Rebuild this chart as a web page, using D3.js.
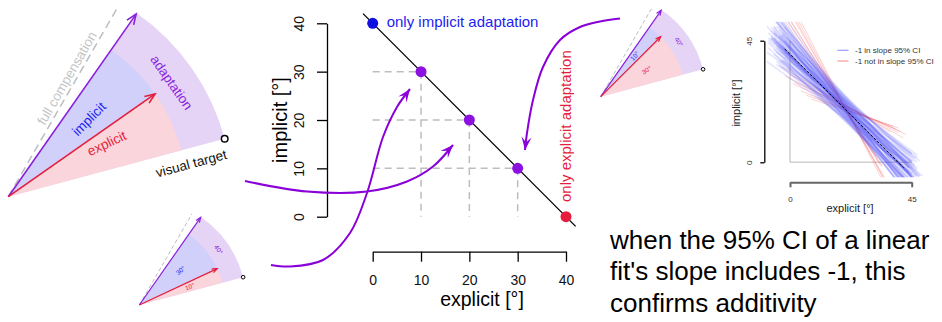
<!DOCTYPE html>
<html>
<head>
<meta charset="utf-8">
<script src="https://cdn.jsdelivr.net/npm/d3@7"></script>
<style>
  body { margin: 0; background: #fff; }
  svg { display: block; font-family: "Liberation Sans", Arial, sans-serif; }
</style>
</head>
<body>
<svg id="fig" width="942" height="322"></svg>
<script>
// ---- data
const wedgeExplicit = [20, 10, 30];   // big, bottom, top-right
const wedgeImplicit = [20, 30, 10];
const targetDeg = 15;

const mainExplicit = [0, 10, 20, 30, 40];
const mainImplicit = [40, 30, 20, 10, 0];
const mainKind     = ['implicit', 'both', 'both', 'both', 'explicit'];
const mainTicks    = [0, 10, 20, 30, 40];
const fitTicks     = [0, 45];

// fitted lines: [x start, x end, intercept, slope]
const blueFits = [
  [-6, 45, 40.0, -1.00], [-4, 46, 41.3, -0.92], [-7, 44, 39.1, -1.10], [-9, 47, 47.3, -1.30],
  [-5, 43, 33.4, -0.78], [-8, 45, 39.1, -0.86], [-2, 46, 47.8, -1.18], [-6, 48, 38.6, -0.98],
  [-4, 44, 32.7, -0.82], [-5, 45, 46.1, -1.22], [-3, 42, 47.5, -1.38], [-7, 47, 42.4, -0.90],
  [-6, 46, 39.5, -1.07], [-1, 45, 45.0, -1.12], [-5, 49, 38.0, -0.88], [-10, 45, 34.7, -0.70],
  [-8, 43, 36.2, -1.01], [-2, 47, 39.3, -0.80], [-6, 44, 42.2, -1.15], [-3, 46, 44.2, -0.96],
  [-5, 45, 45.2, -1.32], [-7, 46, 39.5, -0.93], [-4, 48, 43.0, -1.00], [-6, 43, 42.8, -1.25],
  [-2, 45, 35.9, -0.85], [-9, 47, 31.1, -0.72], [-3, 44, 43.9, -1.09], [-8, 46, 37.5, -0.95],
  [-4, 45, 38.1, -0.84], [-6, 47, 41.5, -1.05], [-1, 44, 34.1, -0.91], [-5, 46, 46.4, -1.16],
  [-7, 45, 39.4, -0.97], [-3, 48, 44.8, -1.04], [-6, 45, 34.8, -0.87], [-4, 43, 44.2, -1.20],
  [-10, 46, 50.8, -1.42], [-2, 45, 39.3, -1.06], [-8, 47, 40.6, -0.91], [-4, 46, 39.7, -1.01],
  [-6, 44, 47.7, -1.13], [-3, 45, 35.5, -0.81], [-5, 48, 37.0, -0.76], [-7, 44, 38.2, -1.08],
  [-4, 47, 39.2, -0.94], [-2, 46, 42.9, -0.97], [-6, 45, 42.9, -1.21], [-5, 44, 38.7, -0.89],
  [-3, 46, 37.8, -1.04], [-8, 45, 48.4, -1.28], [-4, 45, 42.1, -1.10], [-6, 47, 36.3, -0.92],
  [-1, 46, 42.1, -1.03], [-5, 45, 40.4, -0.83], [-7, 46, 41.9, -1.14], [-3, 44, 40.2, -0.96],
  [-5, 47, 45.0, -1.07], [-4, 46, 34.1, -0.86], [-6, 44, 42.0, -1.00], [-2, 48, 42.8, -1.11],
  [-9, 44, 40.3, -1.18], [-5, 46, 32.8, -0.68], [-7, 47, 48.6, -1.36], [-3, 45, 35.4, -0.78],
  [-6, 48, 46.4, -1.09], [-8, 44, 34.7, -0.96], [-4, 45, 45.2, -1.27], [-2, 47, 37.5, -0.74]
];
const redFits = [
  [-3, 34, 51.0, -1.55], [0, 36, 55.5, -1.75], [-2, 33, 53.0, -1.62], [2, 37, 58.0, -1.85],
  [-4, 32, 49.5, -1.48], [1, 35, 56.5, -1.80], [3, 38, 60.0, -1.95], [-1, 34, 52.5, -1.58],
  [1, 41, 29.5, -0.44], [-2, 40, 31.0, -0.50], [4, 39, 28.0, -0.40], [0, 42, 32.5, -0.56],
  [6, 38, 27.0, -0.36], [2, 43, 30.5, -0.47], [-3, 37, 33.5, -0.60], [8, 40, 26.0, -0.33]
];
const legendLabels = ['-1 in slope 95% CI', '-1 not in slope 95% CI'];
const noteLines = ["when the 95% CI of a linear", "fit's slope includes -1, this", "confirms additivity"];

// annotation arrows (pixel paths)
const curveArrows = [
  [[245, 181], [307, 191.5], [367, 191.5], [407, 181.5], [433, 166.5], [453, 145]],
  [[271, 265], [290, 266.5], [323, 260], [350, 233], [367, 193], [383, 137], [397, 107], [410, 89]],
  [[620, 18.5], [600, 21.5], [580, 27], [560, 40], [543, 67], [533, 100], [527, 133], [525, 150]]
];

const C = {
  red: '#e61d3c', blue: '#1d1df2', purple: '#8a1fdc', pink: '#fad5db',
  lblue: '#d0d0fb', lav: '#e6d4f7', gray: '#bdbdbd', curve: '#8a00d8'
};

const svg = d3.select('#fig');

// ---- helpers
const pol = (r, deg) => { const a = deg * Math.PI / 180; return [r * Math.cos(a), -r * Math.sin(a)]; };

function vHead(g, tip, ang, len, color, w) {
  const a1 = ang + Math.PI - 0.38, a2 = ang + Math.PI + 0.38;
  g.append('path')
    .attr('d', `M${tip[0] + len * Math.cos(a1)},${tip[1] + len * Math.sin(a1)}L${tip[0]},${tip[1]}L${tip[0] + len * Math.cos(a2)},${tip[1] + len * Math.sin(a2)}`)
    .attr('fill', 'none').attr('stroke', color).attr('stroke-width', w);
}

function notchHead(g, tip, ang, len, half, color) {
  const bx = Math.cos(ang + Math.PI), by = Math.sin(ang + Math.PI);
  const nx = -by, ny = bx;
  const p1 = [tip[0] + bx * len + nx * half, tip[1] + by * len + ny * half];
  const p2 = [tip[0] + bx * len - nx * half, tip[1] + by * len - ny * half];
  const pn = [tip[0] + bx * len * 0.6, tip[1] + by * len * 0.6];
  g.append('path').attr('d', `M${tip}L${p1}L${pn}L${p2}Z`).attr('fill', color);
}

// ---- wedge diagrams
function drawWedge(o, R, expl, impl, big) {
  const g = svg.append('g').attr('transform', `translate(${o[0]},${o[1]})`);
  const a0 = targetDeg, a1 = a0 + expl, a2 = a1 + impl;
  const rad = d => (90 - d) * Math.PI / 180;
  const arc = d3.arc().innerRadius(0);
  const fs = big ? 13.5 : 6.5;

  g.append('path').attr('d', arc({ outerRadius: R, startAngle: rad(a2), endAngle: rad(a0) })).attr('fill', C.lav);
  g.append('path').attr('d', arc({ outerRadius: 0.8 * R, startAngle: rad(a1), endAngle: rad(a0) })).attr('fill', C.pink);
  g.append('path').attr('d', arc({ outerRadius: 0.8 * R, startAngle: rad(a2), endAngle: rad(a1) })).attr('fill', C.lblue);

  // full compensation
  const fc = pol(0.98 * R, a2 + 5);
  g.append('line').attr('x1', 0).attr('y1', 0).attr('x2', fc[0]).attr('y2', fc[1])
    .attr('stroke', C.gray).attr('stroke-width', big ? 1.5 : 1)
    .attr('stroke-dasharray', big ? '8,5' : '4,2.5');

  // arrows
  const pTip = pol(0.995 * R, a2), rTip = pol(0.8 * R, a1);
  g.append('line').attr('x2', pTip[0]).attr('y2', pTip[1]).attr('stroke', C.purple).attr('stroke-width', big ? 1.6 : 1.2);
  vHead(g, pTip, -a2 * Math.PI / 180, big ? 11 : 5.5, C.purple, big ? 1.6 : 1.2);
  g.append('line').attr('x2', rTip[0]).attr('y2', rTip[1]).attr('stroke', C.red).attr('stroke-width', big ? 1.6 : 1.2);
  vHead(g, rTip, -a1 * Math.PI / 180, big ? 11 : 5.5, C.red, big ? 1.6 : 1.2);

  // visual target
  const t = pol(R, a0);
  g.append('circle').attr('cx', t[0]).attr('cy', t[1]).attr('r', big ? 3.3 : 1.8)
    .attr('fill', '#fff').attr('stroke', '#000').attr('stroke-width', big ? 1.5 : 1);

  const label = (txt, r, deg, rot, color) => {
    const p = pol(r, deg);
    g.append('text').attr('transform', `translate(${p[0]},${p[1]}) rotate(${rot})`)
      .attr('text-anchor', 'middle').attr('dy', '0.35em')
      .style('font-size', fs + 'px').attr('fill', color).text(txt);
  };
  const mE = (a0 + a1) / 2, mI = (a1 + a2) / 2, mA = (a0 + a2) / 2;
  if (big) {
    label('explicit', 0.5 * R, mE + 3.5, -mE, C.red);
    label('implicit', 0.5 * R, mI - 1, -mI, C.blue);
    label('adaptation', 0.89 * R, mA, 90 - mA, C.purple);
    label('full compensation', 0.59 * R, 63.7, -(a2 + 5), '#c4c4c4');
    label('visual target', 0.83 * R, 10.3, -a0, '#111');
  } else {
    label(expl + '°', 0.5 * R, mE, -mE, C.red);
    label(impl + '°', 0.5 * R, mI, -mI, C.blue);
    label((expl + impl) + '°', 0.9 * R, mA, 90 - mA, C.purple);
  }
}

drawWedge([8.3, 196.7], 224, wedgeExplicit[0], wedgeImplicit[0], true);
drawWedge([139.3, 305], 107.5, wedgeExplicit[1], wedgeImplicit[1], false);
drawWedge([600.7, 96.7], 106, wedgeExplicit[2], wedgeImplicit[2], false);

// ---- main chart
const x = d3.scaleLinear().domain([0, 40]).range([372.7, 566]);
const y = d3.scaleLinear().domain([0, 40]).range([216.7, 23.3]);
const main = svg.append('g');

const both = mainExplicit.map((v, i) => ({ x: v, y: mainImplicit[i], k: mainKind[i] }));
both.filter(d => d.k === 'both').forEach(d => {
  main.append('line').attr('x1', x(0)).attr('x2', x(d.x)).attr('y1', y(d.y)).attr('y2', y(d.y))
    .attr('stroke', C.gray).attr('stroke-width', 1.5).attr('stroke-dasharray', '7,5');
  main.append('line').attr('x1', x(d.x)).attr('x2', x(d.x)).attr('y1', y(d.y)).attr('y2', y(0))
    .attr('stroke', C.gray).attr('stroke-width', 1.5).attr('stroke-dasharray', '7,5');
});

main.append('line').attr('x1', x(-2)).attr('y1', y(42)).attr('x2', x(42)).attr('y2', y(-2))
  .attr('stroke', '#000').attr('stroke-width', 1.3);

const ptColor = { implicit: '#1010e0', both: '#8c10e0', explicit: '#e61d3c' };
main.selectAll('.pt').data(both).join('circle').attr('class', 'pt')
  .attr('cx', d => x(d.x)).attr('cy', d => y(d.y)).attr('r', 5.5)
  .attr('fill', d => ptColor[d.k]);

const yAx = main.append('g').attr('transform', 'translate(327,0)')
  .call(d3.axisLeft(y).tickValues(mainTicks).tickSize(10).tickSizeOuter(0));
yAx.selectAll('.tick text').attr('transform', 'rotate(-90)').attr('x', 0).attr('y', -23).attr('dy', 0)
  .attr('text-anchor', 'middle');
const xAx = main.append('g').attr('transform', 'translate(0,251.7)')
  .call(d3.axisBottom(x).tickValues(mainTicks).tickSize(10).tickSizeOuter(0));
xAx.selectAll('.tick text').attr('y', 33.5).attr('dy', 0);
[yAx, xAx].forEach(a => {
  a.selectAll('path, line').attr('stroke', '#000').attr('stroke-width', 1.3);
  a.selectAll('text').style('font-size', '14px').style('font-family', '"Liberation Sans", Arial, sans-serif').attr('fill', '#111');
});

main.append('text').attr('x', 482).attr('y', 306).attr('text-anchor', 'middle')
  .style('font-size', '19.5px').text('explicit [°]');
main.append('text').attr('transform', 'translate(287,120) rotate(-90)').attr('text-anchor', 'middle')
  .style('font-size', '20px').text('implicit [°]');
main.append('text').attr('x', 386.7).attr('y', 26.5).style('font-size', '15px')
  .attr('fill', '#1d1df2').text('only implicit adaptation');
main.append('text').attr('transform', 'translate(571,202) rotate(-90)').style('font-size', '15px')
  .attr('fill', C.red).text('only explicit adaptation');

// ---- curved arrows
const cl = d3.line().curve(d3.curveCatmullRom.alpha(0.5));
curveArrows.forEach(pts => {
  svg.append('path').attr('d', cl(pts)).attr('fill', 'none').attr('stroke', C.curve).attr('stroke-width', 2);
  const a = pts[pts.length - 2], b = pts[pts.length - 1];
  notchHead(svg, b, Math.atan2(b[1] - a[1], b[0] - a[0]), 13, 5, C.curve);
});

// ---- fits chart
const xR = d3.scaleLinear().domain([0, 45]).range([790, 911.7]);
const yR = d3.scaleLinear().domain([0, 45]).range([162.3, 40.7]);
const fit = svg.append('g');

svg.append('clipPath').attr('id', 'fitClip').append('rect')
  .attr('x', xR(-8.5)).attr('y', yR(52)).attr('width', xR(52) - xR(-8.5)).attr('height', yR(-5.5) - yR(52));

fit.append('line').attr('x1', xR(0)).attr('x2', xR(0)).attr('y1', yR(0)).attr('y2', yR(45))
  .attr('stroke', '#cfcfcf').attr('stroke-width', 1.5);
fit.append('line').attr('x1', xR(0)).attr('x2', xR(45)).attr('y1', yR(0)).attr('y2', yR(0))
  .attr('stroke', '#cfcfcf').attr('stroke-width', 1.5);

const lines = fit.append('g').attr('clip-path', 'url(#fitClip)');
lines.selectAll('.red').data(redFits).join('line').attr('class', 'red')
  .attr('x1', d => xR(d[0])).attr('y1', d => yR(d[2] + d[3] * d[0]))
  .attr('x2', d => xR(d[1])).attr('y2', d => yR(d[2] + d[3] * d[1]))
  .attr('stroke', 'rgba(245,80,80,0.26)').attr('stroke-width', 1);
lines.selectAll('.blue').data(blueFits).join('line').attr('class', 'blue')
  .attr('x1', d => xR(d[0])).attr('y1', d => yR(d[2] + d[3] * d[0]))
  .attr('x2', d => xR(d[1])).attr('y2', d => yR(d[2] + d[3] * d[1]))
  .attr('stroke', 'rgba(70,70,245,0.13)').attr('stroke-width', 1.8);
lines.append('line').attr('x1', xR(-2)).attr('y1', yR(42)).attr('x2', xR(42)).attr('y2', yR(-2))
  .attr('stroke', '#000').attr('stroke-width', 1).attr('stroke-dasharray', '3,1.5');

const yAxR = fit.append('g').attr('transform', 'translate(764.3,0)')
  .call(d3.axisLeft(yR).tickValues(fitTicks).tickSize(4).tickSizeOuter(0));
yAxR.selectAll('.tick text').attr('transform', 'rotate(-90)').attr('x', 0).attr('y', -12).attr('dy', 0)
  .attr('text-anchor', 'middle');
yAxR.selectAll('path, line').attr('stroke', '#000').attr('stroke-width', 1.3);
const xAxR = fit.append('g').attr('transform', 'translate(0,182.3)')
  .call(d3.axisBottom(xR).tickValues(fitTicks).tickSize(5).tickSizeOuter(0));
xAxR.selectAll('.tick text').attr('y', 19.4).attr('dy', 0);
xAxR.selectAll('path, line').attr('stroke', '#666').attr('stroke-width', 2);
[yAxR, xAxR].forEach(a => a.selectAll('text').style('font-size', '8px')
  .style('font-family', '"Liberation Sans", Arial, sans-serif').attr('fill', '#333'));

fit.append('text').attr('x', 850).attr('y', 211.5).attr('text-anchor', 'middle')
  .style('font-size', '11px').attr('fill', '#222').text('explicit [°]');
fit.append('text').attr('transform', 'translate(740,103) rotate(-90)').attr('text-anchor', 'middle')
  .style('font-size', '11px').attr('fill', '#222').text('implicit [°]');

const legColors = ['#9a9af8', '#f59a9a'];
legendLabels.forEach((t, i) => {
  const ly = 50.3 + i * 10.7;
  fit.append('line').attr('x1', 837.5).attr('x2', 848.5).attr('y1', ly).attr('y2', ly)
    .attr('stroke', legColors[i]).attr('stroke-width', 1.2);
  fit.append('text').attr('x', 855).attr('y', ly).attr('dy', '0.35em')
    .style('font-size', '8px').attr('fill', '#333').text(t);
});

// ---- note
svg.append('g').selectAll('text').data(noteLines).join('text')
  .attr('x', 610).attr('y', (d, i) => 248.5 + i * 31.6)
  .style('font-size', '26px').attr('fill', '#000').text(d => d);
</script>
</body>
</html>
